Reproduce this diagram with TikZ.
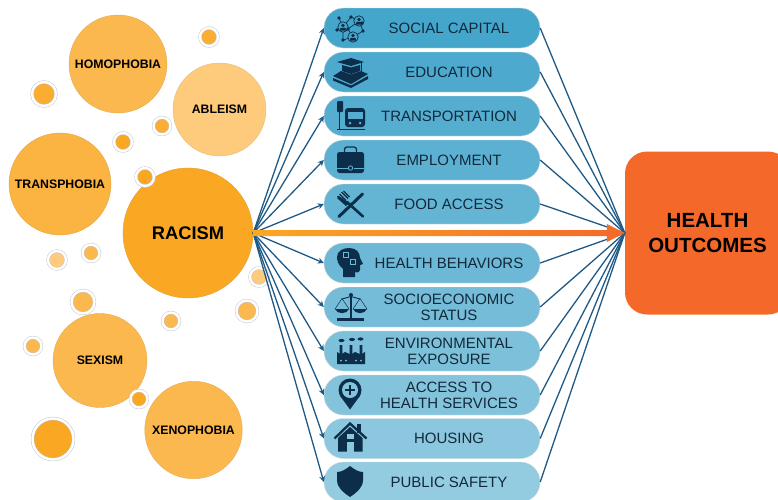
\documentclass[tikz,border=0pt]{standalone}
\usepackage{fontspec}
\setmainfont{Liberation Sans}
\usetikzlibrary{arrows.meta}
\definecolor{pillA}{HTML}{45A6CC}
\definecolor{pillB}{HTML}{93CBE0}
\definecolor{orA}{HTML}{FAA823}
\definecolor{orB}{HTML}{FBB84E}
\definecolor{orC}{HTML}{FDCB7B}
\definecolor{hlth}{HTML}{F4692A}
\definecolor{navy}{HTML}{0C2E4A}
\definecolor{linkc}{HTML}{1F5A86}
\definecolor{txtc}{HTML}{13293A}
\newcommand{\ptxt}[1]{\hspace*{34pt}\raisebox{0pt}[\dimexpr\height+4pt\relax][\depth]{\begin{tabular}{@{}c@{}}#1\end{tabular}}}
\tikzset{
  bigc/.style 2 args={circle,fill=#1,draw=#1!80!gray,line width=.4pt,inner sep=0pt,minimum size=#2,text=black},
  lab/.style={font=\fontsize{12.3}{14}\selectfont\bfseries},
  sdot/.style 2 args={circle,fill=#1,draw=black!22,line width=.5pt,double=white,double distance=2.4pt,inner sep=0pt,minimum size=#2},
  pill/.style={rectangle,rounded corners=19.5pt,minimum width=216pt,minimum height=40pt,inner sep=0pt,fill=pillA!#1!pillB,draw=black!14,line width=.4pt,text=txtc,font=\fontsize{15}{16}\selectfont},
  link/.style={draw=linkc,line width=1.3pt},
  ic/.style={fill=navy,draw=none},
  il/.style={draw=navy,line width=.9pt},
}
\begin{document}
\begin{tikzpicture}[x=1pt,y=-1pt]
\useasboundingbox (0,0) rectangle (778,499);
\clip (0,0) rectangle (778,499);
% big circles
\node[bigc={orB}{98pt},lab] (homo) at (118,64) {HOMOPHOBIA};
\node[bigc={orC}{93pt},lab] (able) at (219.5,109.5) {ABLEISM};
\node[bigc={orB!70!orA}{102pt},lab] (trans) at (60,184) {TRANSPHOBIA};
\node[bigc={orA}{130pt},font=\fontsize{18.3}{20}\selectfont\bfseries] (racism) at (188,233) {RACISM};
\node[bigc={orB}{94pt},lab] (sex) at (100,360.5) {SEXISM};
\node[bigc={orB}{97.5pt},lab] (xeno) at (193.5,430) {XENOPHOBIA};
% small circles
\node[sdot={orA!70!orB}{18pt}] (d1) at (209,37) {};
\node[sdot={orA!70!orB}{24pt}] (d2) at (44,94) {};
\node[sdot={orA!60!orB}{17pt}] (d3) at (162,126) {};
\node[sdot={orA}{18pt}] (d4) at (123,142) {};
\node[sdot={orA}{18pt}] (d5) at (145,177) {};
\node[sdot={orC}{18pt}] (d6) at (57,260) {};
\node[sdot={orB}{17pt}] (d7) at (91,253) {};
\node[sdot={orC}{18pt}] (d8) at (259,277) {};
\node[sdot={orB}{23pt}] (d9) at (83,302) {};
\node[sdot={orB}{21pt}] (d10) at (247,311) {};
\node[sdot={orB}{17pt}] (d11) at (171,321) {};
\node[sdot={orB}{17pt}] (d12) at (33,346) {};
\node[sdot={orA}{17pt}] (d13) at (139,399) {};
\node[sdot={orA}{41pt}] (d14) at (53,439) {};
% pills
\node[pill=100] (p1) at (432,28) {\ptxt{SOCIAL CAPITAL}};
\node[pill=90] (p2) at (432,72) {\ptxt{EDUCATION}};
\node[pill=80] (p3) at (432,116) {\ptxt{TRANSPORTATION}};
\node[pill=70] (p4) at (432,160) {\ptxt{EMPLOYMENT}};
\node[pill=60] (p5) at (432,204) {\ptxt{FOOD ACCESS}};
\node[pill=50] (p6) at (432,263) {\ptxt{HEALTH BEHAVIORS}};
\node[pill=40] (p7) at (432,307) {\ptxt{SOCIOECONOMIC\\STATUS}};
\node[pill=30] (p8) at (432,351) {\ptxt{ENVIRONMENTAL\\EXPOSURE}};
\node[pill=20] (p9) at (432,395) {\ptxt{ACCESS TO\\HEALTH SERVICES}};
\node[pill=10] (p10) at (432,438.5) {\ptxt{HOUSING}};
\node[pill=0] (p11) at (432,482) {\ptxt{PUBLIC SAFETY}};
% outcome box
\node[rectangle,rounded corners=22pt,fill=hlth,minimum width=165pt,minimum height=163pt,inner sep=0pt,align=center,text=black,font=\fontsize{20.5}{25.5}\selectfont\bfseries] (health) at (707.5,233) {HEALTH\\OUTCOMES};
% connectors
\foreach \p in {p1,p2,p3,p4,p5,p6,p7,p8,p9,p10,p11}{
  \draw[link,-{Stealth[length=6pt,width=6pt]}] (racism.east) -- (\p.west);
  \draw[link] (\p.east) -- (health.west);
}
% orange arrow
\shade[left color=orA,right color=hlth]
  ([yshift=3pt]racism.east) -- ([yshift=3pt,xshift=-18pt]health.west) -- ([yshift=9pt,xshift=-18pt]health.west)
  -- (health.west) -- ([yshift=-9pt,xshift=-18pt]health.west) -- ([yshift=-3pt,xshift=-18pt]health.west)
  -- ([yshift=-3pt]racism.east) -- cycle;
% icon: social capital
\draw[il,line width=.7pt] (339,18)--(343,27)--(351,17)--(359,21)--(363,31)--(353,37)--(348,29)--(343,27) (343,27)--(343,40)--(353,37) (359,21)--(348,29) (337,30)--(343,27) (362,23)--(359,21);
\foreach \cx/\cy in {343/27,359/21,353/37}{
  \filldraw[draw=navy,line width=.7pt,fill=pillA] (\cx,\cy) circle (5.2pt);
  \fill[navy] (\cx,\cy-1.5) circle (1.9pt);
  \fill[navy] (\cx-3.2,\cy+3.6) -- (\cx-2.5,\cy+.8) -- (\cx+2.5,\cy+.8) -- (\cx+3.2,\cy+3.6) -- cycle;
}
\foreach \cx/\cy in {339/18,351/17,363/31,362/23,343/40,337/30,348/29}{\fill[navy] (\cx,\cy) circle (1.8pt);}
% icon: education
\fill[ic] (337,62)--(351,58)--(364,62)--(351,66)--cycle;
\fill[ic] (342,65)--(351,67.5)--(360,65)--(360,71)--(351,74)--(342,71)--cycle;
\draw[il,line width=.7pt] (361,63)--(361,71);
\fill[ic] (333,76)--(341,71)--(351,74.5)--(361,71)--(368,74)--(351,84)--cycle;
\fill[ic] (333,78)--(351,85.5)--(368,76)--(368,79)--(351,88)--(333,80.5)--cycle;
% icon: transportation
\fill[ic,rounded corners=1pt] (337,101) rectangle (343,112);
\draw[il] (339.8,112)--(339.8,129);
\draw[il,line width=1.1pt] (337,129.5)--(365,129.5);
\fill[ic,rounded corners=3pt] (345,108) rectangle (365,127);
\fill[pillA!80!pillB] (347.5,112) rectangle (362.5,119);
\fill[pillA!80!pillB] (350,123) circle (1.5pt) (360,123) circle (1.5pt);
% icon: employment
\draw[il,line width=1.3pt,rounded corners=2.5pt] (344.5,153)--(344.5,147)--(356.5,147)--(356.5,153);
\fill[ic,rounded corners=2.5pt] (337,152) rectangle (364,173);
\draw[draw=pillA!70!pillB,line width=.8pt] (337,168)--(347.5,168) (353.5,168)--(364,168);
\draw[draw=pillA!70!pillB,line width=.8pt] (350.5,168) circle (2.2pt);
% icon: food
\draw[navy,line width=3pt,line cap=round] (362.5,194)--(339,216.5);
\draw[navy,line width=2.6pt,line cap=round] (363,216.5)--(347,202);
\fill[ic] (339,196)--(347,201.5)--(349,203)--(346,206)--(337,198)--cycle;
\draw[navy,line width=1.2pt] (337.5,196)--(344,202.5) (339.5,194)--(346,200.5) (341.5,192)--(348,198.5) (343.5,191)--(349.5,197);
% icon: health behaviors
\fill[ic] (343,277)--(343,269) .. controls (338,265) and (337,260) .. (337,257) .. controls (337,251) and (343,248) .. (349,248) .. controls (356,248) and (360,252) .. (360,258) -- (363,264) -- (360,265) -- (360,270) .. controls (360,272) and (358,273) .. (355,272) -- (355,277) -- cycle;
\draw[draw=pillA!50!pillB,line width=.7pt] (343,252) rectangle (348,257) (350,259) rectangle (355,264);
% icon: socioeconomic status
\fill[ic] (337,318) rectangle (364,321);
\fill[ic] (349.7,296) rectangle (352.3,319);
\fill[navy] (351,295) circle (2pt);
\draw[il,line width=.9pt] (342,299)--(351,296.5)--(360,299);
\draw[il,line width=.5pt] (335,309)--(342,298.5)--(349,309) (353,309)--(360,298.5)--(367,309);
\fill[ic] (335,309) .. controls (337,314.5) and (347,314.5) .. (349,309) -- cycle;
\fill[ic] (353,309) .. controls (355,314.5) and (365,314.5) .. (367,309) -- cycle;
% icon: environmental exposure
\fill[ic] (337,364)--(337,352)--(341,354.5)--(345,352)--(351,354.5)--(355,352)--(361,354.5)--(365,352)--(365,364)--cycle;
\fill[ic] (339.7,345) rectangle (342.3,356) (349.7,345) rectangle (352.3,356) (359.7,345) rectangle (362.3,356);
\fill[navy] (341.5,340.5) ellipse (3pt and 1.6pt) (352,339.5) ellipse (3pt and 1.6pt) (360.5,339) ellipse (3pt and 1.6pt);
\foreach \wx in {341,346,356,361}{\fill[pillA!30!pillB] (\wx,360.5) circle (1pt);}
% icon: access to health services
\fill[navy] (350,390) circle (11.5pt);
\fill[ic] (339.8,395.5)--(350,409.5)--(360.2,395.5)--cycle;
\fill[pillA!20!pillB] (350,390) circle (8pt);
\draw[il,line width=1.3pt] (345,390)--(355,390) (350,385)--(350,395);
% icon: housing
\fill[ic] (357,424) rectangle (360.5,433);
\draw[navy,line width=2.3pt,line join=miter] (334.5,438.5)--(350,423.5)--(366.5,438.5);
\fill[ic] (338,438)--(350,427)--(362.5,438)--(362.5,451.5)--(338,451.5)--cycle;
\fill[pillA!10!pillB] (346.5,442) rectangle (354,451.5);
\fill[pillA!10!pillB] (346.5,433.5) rectangle (354,439);
% icon: public safety
\fill[ic] (350,466) .. controls (345,470) and (341,472) .. (337,472) -- (337,480) .. controls (337,488) and (344,493) .. (350,497) .. controls (356,493) and (363,488) .. (363,480) -- (363,472) .. controls (359,472) and (355,470) .. (350,466) -- cycle;
\end{tikzpicture}
\end{document}
